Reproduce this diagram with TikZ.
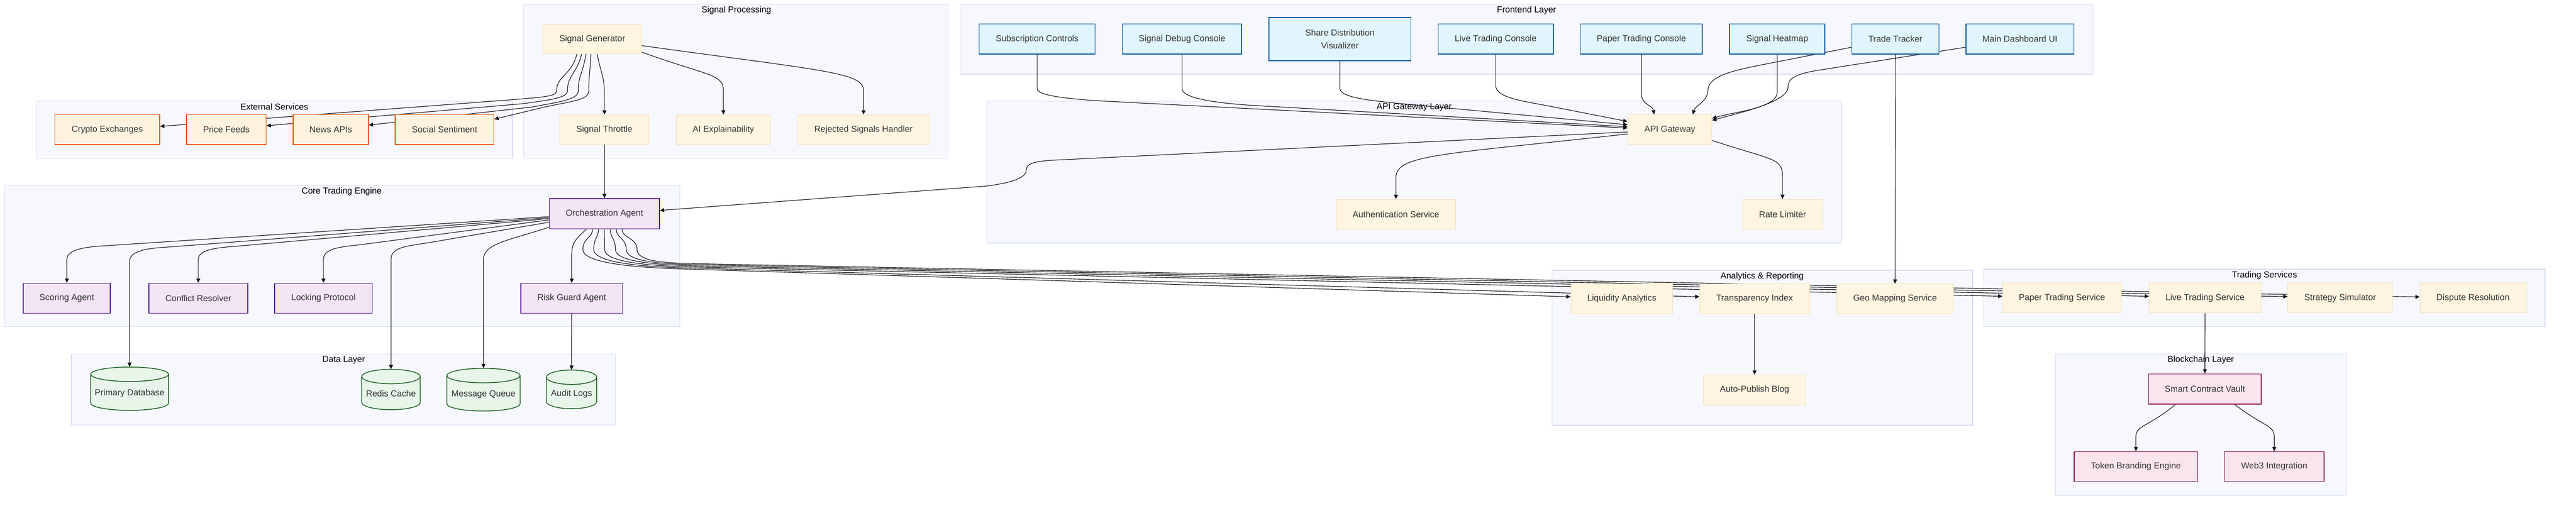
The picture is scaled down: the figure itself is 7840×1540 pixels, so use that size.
\documentclass[tikz,border=0pt]{standalone}
\usepackage{fontspec}
\setmainfont{Liberation Sans}
\usetikzlibrary{arrows.meta,calc}
\pgfdeclarelayer{bg}
\pgfdeclarelayer{edges}
\pgfsetlayers{bg,edges,main}
\definecolor{clfill}{HTML}{F7F8FE}
\definecolor{clstroke}{HTML}{D3DDF3}
\definecolor{dfill}{HTML}{FFF5E0}
\definecolor{dstroke}{HTML}{F0E0BC}
\definecolor{fefill}{HTML}{E1F5FE}
\definecolor{festroke}{HTML}{01579B}
\definecolor{exfill}{HTML}{FFF3E0}
\definecolor{exstroke}{HTML}{E65100}
\definecolor{cofill}{HTML}{F3E5F5}
\definecolor{costroke}{HTML}{4A148C}
\definecolor{dbfill}{HTML}{E8F5E9}
\definecolor{dbstroke}{HTML}{1B5E20}
\definecolor{bcfill}{HTML}{FCE4EC}
\definecolor{bcstroke}{HTML}{880E4F}
\definecolor{txt}{HTML}{333333}
\definecolor{edgecol}{HTML}{111111}
\newcommand\nf{\fontsize{13.25}{20}\selectfont}
\newcommand\dbcyl[4]{%
  \pgfmathsetmacro\rxa{#3/2}%
  \pgfmathsetmacro\ybA{#2+22}%
  \pgfmathsetmacro\ybB{#2+#4-22}%
  \filldraw[dbshape] ({#1-\rxa},\ybA) -- ({#1-\rxa},\ybB)
    arc[start angle=180,end angle=360,x radius=\rxa*0.5pt,y radius=11pt]
    -- ({#1+\rxa},\ybA)
    arc[start angle=0,end angle=180,x radius=\rxa*0.5pt,y radius=11pt] -- cycle;
  \draw[dbshape,fill=none] ({#1-\rxa},\ybA)
    arc[start angle=180,end angle=360,x radius=\rxa*0.5pt,y radius=11pt];
}
\begin{document}
\begin{tikzpicture}[x=0.5pt,y=-0.5pt,
  sz/.style 2 args={minimum width={#1*0.5pt}, minimum height={#2*0.5pt}},
  base/.style={rectangle, inner sep=0pt, align=center, text=txt, font=\nf},
  dflt/.style={base, fill=dfill, draw=dstroke, line width=0.8pt},
  fe/.style={base, fill=fefill, draw=festroke, line width=1.3pt},
  ext/.style={base, fill=exfill, draw=exstroke, line width=1.3pt},
  core/.style={base, fill=cofill, draw=costroke, line width=1.3pt},
  chain/.style={base, fill=bcfill, draw=bcstroke, line width=1.3pt},
  dbtxt/.style={base, text height=24pt, text depth=3pt},
  dbshape/.style={fill=dbfill, draw=dbstroke, line width=1.2pt},
  cluster/.style={fill=clfill, draw=clstroke, line width=1pt},
  ctitle/.style={inner sep=0pt, font=\nf, text=black},
  edge/.style={draw=edgecol, line width=0.9pt, -{Triangle[length=6.5pt,width=6pt]}}
]
\useasboundingbox (0,0) rectangle (7840,1540);

% ---------- clusters ----------
\begin{pgfonlayer}{bg}
\fill[white] (0,0) rectangle (7840,1540);
\draw[cluster] (110,308) rectangle (1560,482);
\draw[cluster] (1594,13) rectangle (2886,482);
\draw[cluster] (2922,13) rectangle (6370,226);
\draw[cluster] (3003,308) rectangle (5605,740);
\draw[cluster] (13,565) rectangle (2069,995);
\draw[cluster] (218,1079) rectangle (1873,1294);
\draw[cluster] (4724,823) rectangle (6004,1295);
\draw[cluster] (6038,820) rectangle (7746,995);
\draw[cluster] (6255,1078) rectangle (7141,1509);
\end{pgfonlayer}

\node[ctitle] (tExt) at (835,326) {External Services};
\node[ctitle] (tSig) at (2241,32) {Signal Processing};
\node[ctitle] (tFe) at (4646,32) {Frontend Layer};
\node[ctitle] (tApi) at (4304,327) {API Gateway Layer};
\node[ctitle] (tCore) at (1040,583) {Core Trading Engine};
\node[ctitle] (tData) at (1046,1097) {Data Layer};
\node[ctitle] (tAn) at (5363,842) {Analytics \& Reporting};
\node[ctitle] (tTr) at (6892,839) {Trading Services};
\node[ctitle] (tBc) at (6698,1096) {Blockchain Layer};

% ---------- external services ----------
\node[ext, sz={319}{92}] (ce) at (326.5,395) {Crypto Exchanges};
\node[ext, sz={242}{92}] (pf) at (689,395) {Price Feeds};
\node[ext, sz={229}{92}] (na) at (1006.5,395) {News APIs};
\node[ext, sz={300}{92}] (so) at (1353,395) {Social Sentiment};

% ---------- signal processing ----------
\node[dflt, sz={301}{90}] (sg) at (1802.5,119) {Signal Generator};
\node[dflt, sz={271}{90}] (st) at (1839.5,395) {Signal Throttle};
\node[dflt, sz={287}{90}] (ai) at (2201.5,395) {AI Explainability};
\node[dflt, sz={400}{90}] (rs) at (2628,395) {Rejected Signals Handler};

% ---------- frontend ----------
\node[fe, sz={353}{92}] (sc) at (3156.5,119) {Subscription Controls};
\node[fe, sz={363}{92}] (dc) at (3597.5,119) {Signal Debug Console};
\node[fe, sz={432}{132}] (sd) at (4078,119) {Share Distribution\\Visualizer};
\node[fe, sz={350}{92}] (lc) at (4552,119) {Live Trading Console};
\node[fe, sz={371}{92}] (pc) at (4995.5,119) {Paper Trading Console};
\node[fe, sz={290}{92}] (sh) at (5409,119) {Signal Heatmap};
\node[fe, sz={265}{92}] (tt) at (5768.5,119) {Trade Tracker};
\node[fe, sz={329}{92}] (md) at (6147.5,119) {Main Dashboard UI};

% ---------- api gateway layer ----------
\node[dflt, sz={256}{91}] (ag) at (5082,395) {API Gateway};
\node[dflt, sz={365}{91}] (au) at (4248.5,652.5) {Authentication Service};
\node[dflt, sz={242}{91}] (rl) at (5425,652.5) {Rate Limiter};

% ---------- core trading engine ----------
\node[core, sz={335}{92}] (oa) at (1839.5,651) {Orchestration Agent};
\node[core, sz={265}{91}] (sa) at (203.5,908.5) {Scoring Agent};
\node[core, sz={301}{91}] (cr) at (603.5,908.5) {Conflict Resolver};
\node[core, sz={297}{91}] (lp) at (984.5,908.5) {Locking Protocol};
\node[core, sz={310}{91}] (rg) at (1740,908.5) {Risk Guard Agent};

% ---------- data layer ----------
\dbcyl{394.5}{1118}{237}{132}
\node[dbtxt, sz={237}{132}] (pdb) at (394.5,1184) {Primary Database};
\dbcyl{1190}{1125}{178}{123}
\node[dbtxt, sz={178}{123}] (rc) at (1190,1186.5) {Redis Cache};
\dbcyl{1471.5}{1122}{223}{130}
\node[dbtxt, sz={223}{130}] (mq) at (1471.5,1187) {Message Queue};
\dbcyl{1739.5}{1127}{153}{118}
\node[dbtxt, sz={153}{118}] (al) at (1739.5,1186) {Audit Logs};

% ---------- analytics ----------
\node[dflt, sz={310}{90}] (la) at (4936,910) {Liquidity Analytics};
\node[dflt, sz={334}{90}] (ti) at (5340,910) {Transparency Index};
\node[dflt, sz={355}{90}] (gm) at (5767.5,910) {Geo Mapping Service};
\node[dflt, sz={310}{91}] (apb) at (5340,1187.5) {Auto-Publish Blog};

% ---------- trading services ----------
\node[dflt, sz={361}{91}] (ps) at (6275.5,907.5) {Paper Trading Service};
\node[dflt, sz={340}{91}] (ls) at (6711,907.5) {Live Trading Service};
\node[dflt, sz={318}{91}] (sim) at (7122,907.5) {Strategy Simulator};
\node[dflt, sz={323}{91}] (dr) at (7526.5,907.5) {Dispute Resolution};

% ---------- blockchain ----------
\node[chain, sz={343}{92}] (scv) at (6710.5,1185) {Smart Contract Vault};
\node[chain, sz={375}{91}] (tbe) at (6500.5,1421.5) {Token Branding Engine};
\node[chain, sz={303}{91}] (w3) at (6921.5,1421.5) {Web3 Integration};

% ================= edges =================
\begin{pgfonlayer}{edges}
% Signal generator fan-out
\draw[edge] ($(sg.south)+(-47,0)$) .. controls (1740,230) and (1694,230) .. (1694,277)
  .. controls (1694,295) and (1640,296) .. (1582,302) -- ($(ce.east)+(0,-10)$);
\draw[edge] ($(sg.south)+(-32,0)$) .. controls (1752,230) and (1727,230) .. (1727,277)
  .. controls (1727,300) and (1660,306) .. (1590,316) -- ($(pf.east)+(0,-12)$);
\draw[edge] ($(sg.south)+(-19,0)$) .. controls (1772,230) and (1760,230) .. (1760,277)
  .. controls (1760,305) and (1690,312) .. (1620,326) -- ($(na.east)+(0,-14)$);
\draw[edge] ($(sg.south)+(-4,0)$) .. controls (1795,230) and (1792,230) .. (1792,277)
  .. controls (1792,305) and (1740,308) .. (1658,326) -- ($(so.east)+(0,-32)$);
\draw[edge] ($(sg.south)+(15,0)$) .. controls (1830,230) and (1839.5,230) .. (1839.5,290) -- (st.north);
\draw[edge] ($(sg.east)+(0,40)$) .. controls (2150,230) and (2201.5,225) .. (2201.5,275) -- (ai.north);
\draw[edge] ($(sg.east)+(0,20)$) .. controls (2500,215) and (2628,220) .. (2628,275) -- (rs.north);
\draw[edge] (st.south) -- (oa.north);

% Frontend to API gateway
\draw[edge] (sc.south) -- (3156.5,270) .. controls (3156.5,294) and (3277,304) .. (3397,310) -- ($(ag.west)+(0,-5)$);
\draw[edge] (dc.south) -- (3597.5,270) .. controls (3597.5,301) and (3713,315.5) .. (3828,322) -- ($(ag.west)+(0,-9)$);
\draw[edge] (sd.south) -- (4078,270) .. controls (4078,300) and (4194,309) .. (4309,320) -- ($(ag.west)+(0,-15)$);
\draw[edge] (lc.south) -- (4552,260) .. controls (4552,299) and (4638,308) .. (4724,325) -- ($(ag.west)+(0,-25)$);
\draw[edge] (pc.south) -- (4995.5,285) .. controls (4995.5,320) and (5030,320) .. ($(ag.north)+(-48,0)$);
\draw[edge] (sh.south) -- (5409,280) .. controls (5409,330) and (5280,340) .. ($(ag.north east)+(0,12)$);
\draw[edge] ($(tt.west)+(0,25)$) -- (5400,190) .. controls (5300,210) and (5199,225) .. (5198,275)
  .. controls (5197,310) and (5160,320) .. ($(ag.north)+(70,0)$);
\draw[edge] ($(md.west)+(0,25)$) -- (5540,213) .. controls (5460,225.5) and (5442,240) .. (5442,265)
  .. controls (5442,310) and (5300,342) .. ($(ag.north east)+(0,18)$);
\draw[edge] (tt.south) -- (gm.north);

% API gateway out
\draw[edge] ($(ag.west)+(0,7)$) -- (3205,488) .. controls (3140,492) and (3123,500) .. (3123,520)
  .. controls (3123,545) and (3060,560) .. (2999,567) -- ($(oa.east)+(0,-10)$);
\draw[edge] ($(ag.west)+(0,13)$) .. controls (4400,470) and (4248.5,470) .. (4248.5,540) -- (au.north);
\draw[edge] ($(ag.east)+(0,33)$) .. controls (5400,490) and (5425,480) .. (5425,540) -- (rl.north);

% Orchestration agent to left
\draw[edge] ($(oa.west)+(0,9)$) -- (330,748) .. controls (280,751) and (203.5,755) .. (203.5,790) -- (sa.north);
\draw[edge] ($(oa.west)+(0,12)$) -- (520,752) .. controls (470,755) and (394.5,759) .. (394.5,795) -- (pdb.north);
\draw[edge] ($(oa.west)+(0,15)$) -- (720,750) .. controls (670,754) and (603.5,758) .. (603.5,790) -- (cr.north);
\draw[edge] ($(oa.west)+(0,19)$) -- (1100,745) .. controls (1040,752) and (984.5,755) .. (984.5,790) -- (lp.north);
\draw[edge] ($(oa.west)+(0,26)$) -- (1300,740) .. controls (1240,750) and (1190,752) .. (1190,790) -- (rc.north);
\draw[edge] ($(oa.west)+(0,41)$) .. controls (1560,730) and (1471.5,740) .. (1471.5,790) -- (mq.north);
\draw[edge] ($(oa.south)+(-55,0)$) .. controls (1750,730) and (1740,740) .. (1740,780) -- (rg.north);
\draw[edge] (rg.south) -- (al.north);

% Orchestration agent to analytics / trading
\draw[edge] ($(oa.south)+(-36,0)$) .. controls (1803,725) and (1774,725) .. (1774,760)
  .. controls (1774,810) and (2000,817) .. (2100,820) -- ($(la.west)+(0,-6)$);
\draw[edge] ($(oa.south)+(-18,0)$) .. controls (1821,725) and (1807,725) .. (1807,760)
  .. controls (1807,806) and (2000,814) .. (2100,816.5) -- ($(ti.west)+(0,-6)$);
\draw[edge] ($(oa.south)+(0,0)$) .. controls (1839,725) and (1840,725) .. (1840,760)
  .. controls (1840,802) and (2000,810) .. (2100,813) -- ($(ps.west)+(0,-5)$);
\draw[edge] ($(oa.south)+(18,0)$) .. controls (1857,725) and (1873,725) .. (1873,760)
  .. controls (1873,798) and (2000,806) .. (2100,809.5) -- ($(ls.west)+(0,-5)$);
\draw[edge] ($(oa.south)+(36,0)$) .. controls (1875,725) and (1906,725) .. (1906,760)
  .. controls (1906,795) and (2000,803) .. (2100,806) -- ($(sim.west)+(0,-4)$);
\draw[edge] ($(oa.south)+(54,0)$) .. controls (1893,725) and (1939,725) .. (1939,760)
  .. controls (1939,792) and (2000,800) .. (2100,803) -- ($(dr.west)+(0,-3)$);

% analytics / trading / blockchain
\draw[edge] (ti.south) -- (apb.north);
\draw[edge] (ls.south) -- (scv.north);
\draw[edge] ($(scv.south)+(-90,0)$) .. controls (6540,1300) and (6500.5,1295) .. (6500.5,1330) -- (tbe.north);
\draw[edge] ($(scv.south)+(91,0)$) .. controls (6890,1300) and (6921.5,1295) .. (6921.5,1330) -- (w3.north);
\end{pgfonlayer}
\end{tikzpicture}
\end{document}
